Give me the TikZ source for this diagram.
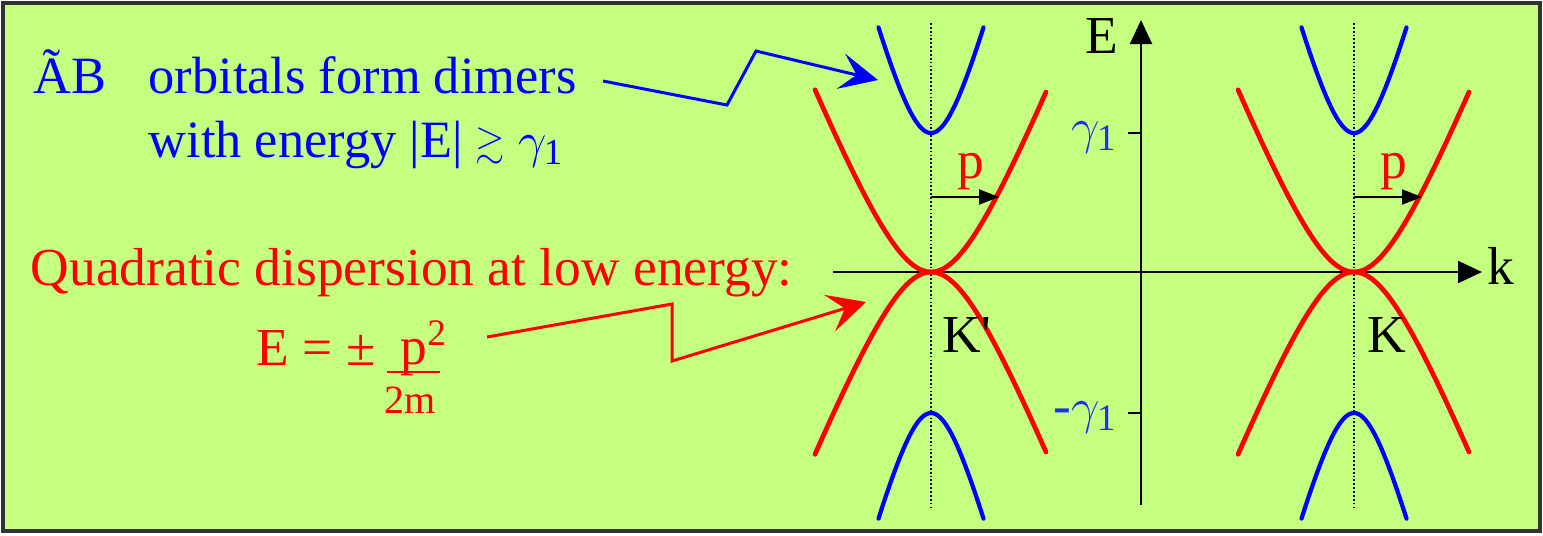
\documentclass[tikz,border=0pt]{standalone}
\usepackage{fontspec}
\usepackage{amssymb}
\usepackage{graphicx}
\setmainfont{Liberation Serif}
\usetikzlibrary{arrows.meta}
\definecolor{bggreen}{RGB}{196,255,128}
\definecolor{framegray}{RGB}{50,50,50}
\definecolor{labblue}{RGB}{30,50,235}
\newcommand{\gone}{$\gamma_{\mathrm{1}}$}
\tikzset{
  txt/.style={inner sep=0pt, font=\fontsize{15.2}{18}\selectfont},
  smalltxt/.style={inner sep=0pt, font=\fontsize{11.4}{13}\selectfont},
  bluetxt/.style={inner sep=0pt, font=\fontsize{14.9}{18}\selectfont, text=blue},
  redtxt/.style={txt, text=red},
  blktxt/.style={txt, text=black},
  redcurve/.style={draw=red, line width=1.35pt, line cap=round},
  bluecurve/.style={draw=blue, line width=1.2pt, line cap=round},
  axisline/.style={draw=black, line width=0.55pt, -{Triangle[length=0.24cm,width=0.22cm]}},
  tickline/.style={draw=black, line width=0.55pt},
  valley/.style={draw=black, line width=0.5pt, dash pattern=on 0.5pt off 0.6pt},
  momentum/.style={draw=black, line width=0.55pt, -{Triangle[length=0.2cm,width=0.15cm]}},
  bluecallout/.style={draw=blue, line width=0.85pt, line join=miter, -{Stealth[length=0.38cm,width=0.36cm,inset=0.16cm]}},
  redcallout/.style={draw=red, line width=0.85pt, line join=miter, -{Stealth[length=0.38cm,width=0.38cm,inset=0.16cm]}},
}
\begin{document}
\begin{tikzpicture}[x=0.01cm,y=-0.01cm]
\useasboundingbox (0,0) rectangle (1543,535);
% background and frame
\fill[white] (0,0) rectangle (1543,535);
\filldraw[fill=bggreen, draw=framegray, line width=1.1pt] (3,3) rectangle (1540,531);

% axes
\coordinate (korig) at (833,272);
\coordinate (ktip) at (1482,272);
\coordinate (eorig) at (1141,505);
\coordinate (etip) at (1141,20);
\draw[axisline] (korig) -- (ktip);
\draw[axisline] (eorig) -- (etip);
\node[blktxt, anchor=base] (klab) at (1501,284) {k};
\node[blktxt, anchor=base] (elab) at (1102,53) {E};

% ticks
\coordinate (tp1) at (1128,133); \coordinate (tp2) at (1141,133);
\coordinate (tm1) at (1128,413); \coordinate (tm2) at (1141,413);
\draw[tickline] (tp1) -- (tp2);
\draw[tickline] (tm1) -- (tm2);
\node[txt, text=labblue, anchor=base east] (gp) at (1118,143) {\gone};
\node[txt, text=labblue, anchor=base east] (gm) at (1118,423) {-\gone};

% valley lines
\coordinate (kpt) at (931,23); \coordinate (kpb) at (931,508);
\coordinate (kt) at (1354,23); \coordinate (kb) at (1354,508);
\draw[valley] (kpt) -- (kpb);
\draw[valley] (kt) -- (kb);

% bands at K'
\draw[redcurve] plot[domain=-11.6:11.5, samples=80] ({931+10*\x}, {272-10*(sqrt(203.06+6.33*\x*\x)-14.25)});
\draw[redcurve] plot[domain=-11.6:11.5, samples=80] ({931+10*\x}, {272+10*(sqrt(203.06+6.33*\x*\x)-14.25)});
\draw[bluecurve] plot[domain=-5.25:5.25, samples=60] ({931+10*\x}, {133-10*(sqrt(169+14*\x*\x)-13)});
\draw[bluecurve] plot[domain=-5.25:5.25, samples=60] ({931+10*\x}, {413+10*(sqrt(169+14*\x*\x)-13)});
% bands at K
\draw[redcurve] plot[domain=-11.6:11.5, samples=80] ({1354+10*\x}, {272-10*(sqrt(203.06+6.33*\x*\x)-14.25)});
\draw[redcurve] plot[domain=-11.6:11.5, samples=80] ({1354+10*\x}, {272+10*(sqrt(203.06+6.33*\x*\x)-14.25)});
\draw[bluecurve] plot[domain=-5.25:5.25, samples=60] ({1354+10*\x}, {133-10*(sqrt(169+14*\x*\x)-13)});
\draw[bluecurve] plot[domain=-5.25:5.25, samples=60] ({1354+10*\x}, {413+10*(sqrt(169+14*\x*\x)-13)});

% momentum arrows
\coordinate (pa0) at (931,197); \coordinate (pa1) at (999,197);
\coordinate (pb0) at (1354,197); \coordinate (pb1) at (1422,197);
\draw[momentum] (pa0) -- (pa1);
\draw[momentum] (pb0) -- (pb1);
\node[redtxt, anchor=base west] (pla) at (957,178) {p};
\node[redtxt, anchor=base west] (plb) at (1380,178) {p};

% valley labels
\node[blktxt, anchor=base west] (kplab) at (942,352) {K\textquotesingle};
\node[blktxt, anchor=base west] (klabel) at (1367,352) {K};

% left texts
\node[bluetxt, anchor=base west] (ab) at (33,93) {ÃB};
\node[bluetxt, anchor=base west] (orb) at (148,93) {orbitals form dimers};
\node[bluetxt, anchor=base west] (wen) at (148,157) {with energy |E| \raisebox{0.5pt}{\scalebox{0.72}{$\gtrsim$}} \gone};
\node[redtxt, anchor=base west] (quad) at (30,285) {Quadratic dispersion at low energy:};
\node[redtxt, anchor=base west] (eq) at (256,365) {E = ±};
\node[redtxt, anchor=base west] (num) at (400,364) {p\textsuperscript{2}};
\node[smalltxt, text=red, anchor=base west] (den) at (384,413) {2m};
\coordinate (fb0) at (387,372); \coordinate (fb1) at (440,372);
\draw[draw=red, line width=0.7pt] (fb0) -- (fb1);

% callout arrows
\coordinate (b0) at (603,81); \coordinate (b1) at (727,105); \coordinate (b2) at (756,51); \coordinate (b3) at (878,80);
\draw[bluecallout] (b0) -- (b1) -- (b2) -- (b3);
\coordinate (r0) at (487,337); \coordinate (r1) at (672,304); \coordinate (r2) at (672,361); \coordinate (r3) at (866,302);
\draw[redcallout] (r0) -- (r1) -- (r2) -- (r3);
\end{tikzpicture}
\end{document}
